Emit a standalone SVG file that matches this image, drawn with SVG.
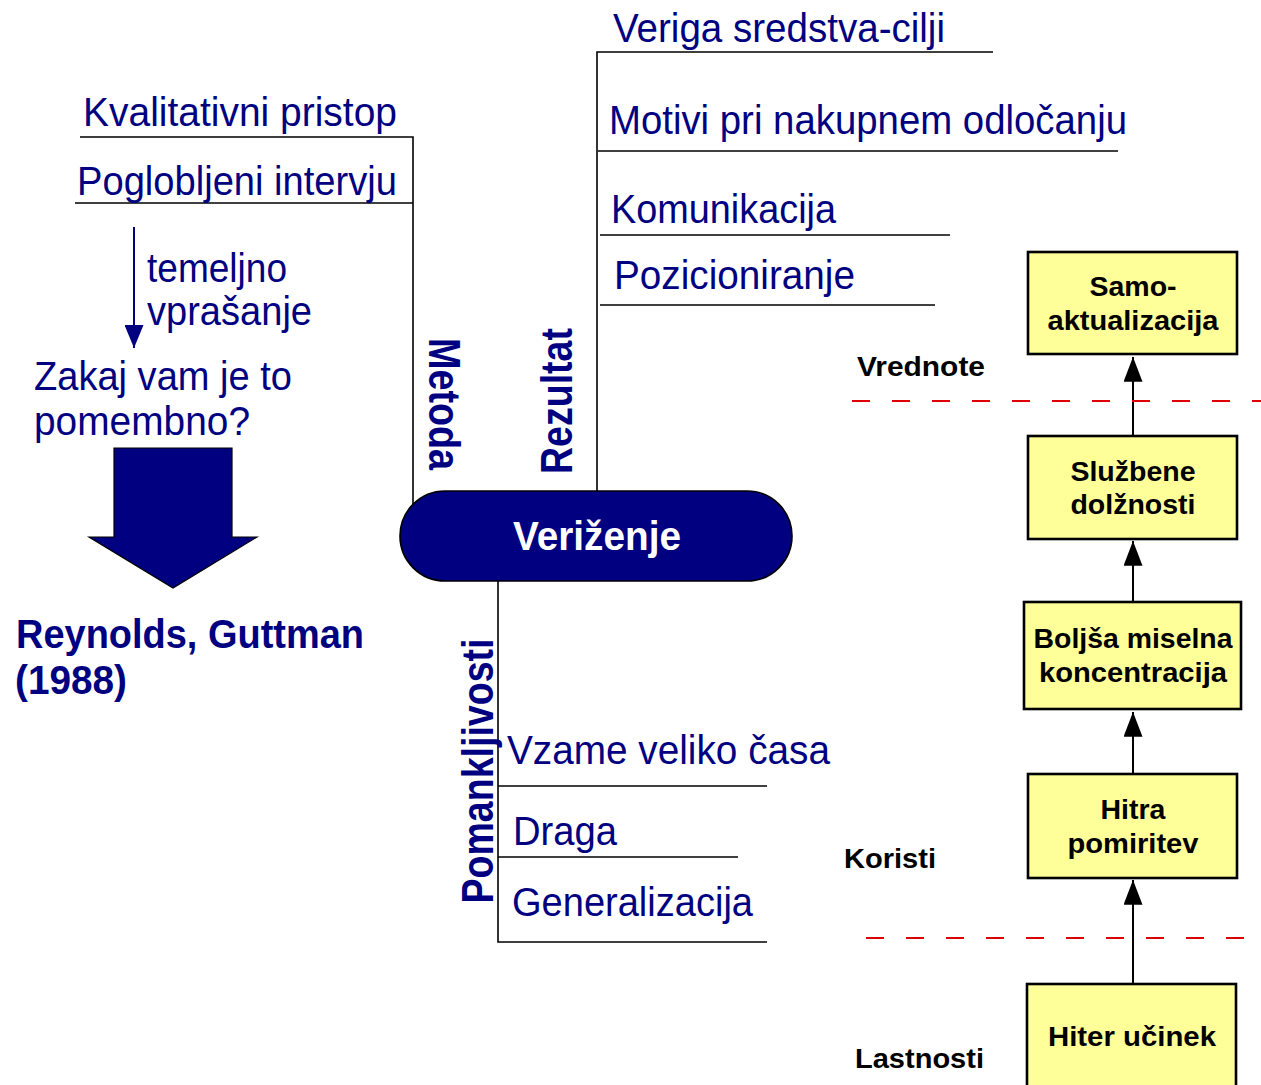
<svg xmlns="http://www.w3.org/2000/svg" width="1261" height="1085" viewBox="0 0 1261 1085">
<style>
.t{font-family:"Liberation Sans",Arial,sans-serif;font-size:41px;fill:#000080}
.tb{font-family:"Liberation Sans",Arial,sans-serif;font-size:41px;font-weight:bold;fill:#000080}
.rb{font-family:"Liberation Sans",Arial,sans-serif;font-size:44px;font-weight:bold;fill:#000080}
.k{font-family:"Liberation Sans",Arial,sans-serif;font-size:28.5px;font-weight:bold;fill:#000}
.ln{stroke:#000;stroke-width:1.6;fill:none}
.box{fill:#FFFF99;stroke:#000;stroke-width:2.6}
.dash{stroke:#DD0000;stroke-width:2;stroke-dasharray:18 22;fill:none}
.ar{stroke:#000;stroke-width:2;fill:none;marker-end:url(#ah)}
</style>
<defs>
<marker id="ah" viewBox="0 0 26 20" refX="26" refY="10" markerWidth="26" markerHeight="19" markerUnits="userSpaceOnUse" orient="auto">
<path d="M0,0 L26,10 L0,20 Z" fill="#000"/>
</marker>
<marker id="nh" viewBox="0 0 23 19" refX="23" refY="9.5" markerWidth="23" markerHeight="19" markerUnits="userSpaceOnUse" orient="auto">
<path d="M0,0 L23,9.5 L0,19 Z" fill="#000080"/>
</marker>
</defs>
<rect width="1261" height="1085" fill="#fff"/>

<g id="connectors">
<path class="ln" d="M80,137 H413 V510"/>
<path class="ln" d="M75,203 H413"/>
<path class="ln" d="M993,52 H597 V495"/>
<path class="ln" d="M598,151 H1118"/>
<path class="ln" d="M600,235 H950"/>
<path class="ln" d="M600,305 H935"/>
<path class="ln" d="M498,578 V942 H767"/>
<path class="ln" d="M498,786 H767"/>
<path class="ln" d="M498,857 H738"/>
<line x1="134" y1="227" x2="134" y2="348" stroke="#000080" stroke-width="2" marker-end="url(#nh)"/>
<line class="ar" x1="1133" y1="436" x2="1133" y2="357"/>
<line class="ar" x1="1133" y1="602" x2="1133" y2="541"/>
<line class="ar" x1="1133" y1="774" x2="1133" y2="712"/>
<line class="ar" x1="1133" y1="984" x2="1133" y2="880"/>
</g>

<g id="separators">
<line class="dash" x1="852" y1="401" x2="1261" y2="401"/>
<line class="dash" x1="866" y1="938" x2="1261" y2="938"/>
</g>

<g id="left-texts">
<text class="t" x="83" y="126" textLength="314" lengthAdjust="spacingAndGlyphs">Kvalitativni pristop</text>
<text class="t" x="77" y="195" textLength="320" lengthAdjust="spacingAndGlyphs">Poglobljeni intervju</text>
<text class="t" x="147" y="282" textLength="140" lengthAdjust="spacingAndGlyphs">temeljno</text>
<text class="t" x="147" y="325" textLength="165" lengthAdjust="spacingAndGlyphs">vprašanje</text>
<text class="t" x="34" y="390" textLength="258" lengthAdjust="spacingAndGlyphs">Zakaj vam je to</text>
<text class="t" x="34" y="435" textLength="216" lengthAdjust="spacingAndGlyphs">pomembno?</text>
</g>

<g id="big-arrow">
<path d="M114,448 H232 V537 H257 L173,588 L89,537 H114 Z" fill="#000080" stroke="#000" stroke-width="1.2"/>
</g>

<g id="reynolds">
<text class="tb" x="16" y="648" textLength="348" lengthAdjust="spacingAndGlyphs">Reynolds, Guttman</text>
<text class="tb" x="15" y="694" textLength="112" lengthAdjust="spacingAndGlyphs">(1988)</text>
</g>

<g id="rotated-labels">
<text class="rb" transform="translate(429,404) rotate(90)" text-anchor="middle" textLength="132" lengthAdjust="spacingAndGlyphs">Metoda</text>
<text class="rb" transform="translate(572,401) rotate(-90)" text-anchor="middle" textLength="146" lengthAdjust="spacingAndGlyphs">Rezultat</text>
<text class="rb" transform="translate(493,771) rotate(-90)" text-anchor="middle" textLength="265" lengthAdjust="spacingAndGlyphs">Pomankljivosti</text>
</g>

<g id="verizenje">
<rect x="400" y="491" width="392" height="90" rx="45" ry="45" fill="#000080" stroke="#000" stroke-width="1.6"/>
<text class="tb" x="597" y="550" text-anchor="middle" textLength="168" lengthAdjust="spacingAndGlyphs" style="fill:#fff">Veriženje</text>
</g>

<g id="results">
<text class="t" x="613" y="42" textLength="332" lengthAdjust="spacingAndGlyphs">Veriga sredstva-cilji</text>
<text class="t" x="609" y="134" textLength="518" lengthAdjust="spacingAndGlyphs">Motivi pri nakupnem odločanju</text>
<text class="t" x="611" y="223" textLength="225" lengthAdjust="spacingAndGlyphs">Komunikacija</text>
<text class="t" x="614" y="289" textLength="241" lengthAdjust="spacingAndGlyphs">Pozicioniranje</text>
</g>

<g id="drawbacks">
<text class="t" x="507" y="764" textLength="323" lengthAdjust="spacingAndGlyphs">Vzame veliko časa</text>
<text class="t" x="513" y="845" textLength="104" lengthAdjust="spacingAndGlyphs">Draga</text>
<text class="t" x="512" y="916" textLength="241" lengthAdjust="spacingAndGlyphs">Generalizacija</text>
</g>

<g id="level-labels">
<text class="k" x="857" y="376" font-size="29" textLength="128" lengthAdjust="spacingAndGlyphs">Vrednote</text>
<text class="k" x="844" y="868" font-size="29" textLength="92" lengthAdjust="spacingAndGlyphs">Koristi</text>
<text class="k" x="855" y="1068" font-size="29" textLength="129" lengthAdjust="spacingAndGlyphs">Lastnosti</text>
</g>

<g id="node-samoaktualizacija">
<rect class="box" x="1028" y="252" width="209" height="102"/>
<text class="k" x="1133" y="296" text-anchor="middle">Samo-</text>
<text class="k" x="1133" y="330" text-anchor="middle" textLength="171" lengthAdjust="spacingAndGlyphs">aktualizacija</text>
</g>
<g id="node-sluzbene">
<rect class="box" x="1028" y="436" width="209" height="103"/>
<text class="k" x="1133" y="481" text-anchor="middle">Službene</text>
<text class="k" x="1133" y="514" text-anchor="middle">dolžnosti</text>
</g>
<g id="node-boljsa">
<rect class="box" x="1024" y="602" width="217" height="107"/>
<text class="k" x="1133" y="648" text-anchor="middle" textLength="199" lengthAdjust="spacingAndGlyphs">Boljša miselna</text>
<text class="k" x="1133" y="682" text-anchor="middle" textLength="188" lengthAdjust="spacingAndGlyphs">koncentracija</text>
</g>
<g id="node-hitra">
<rect class="box" x="1028" y="774" width="209" height="104"/>
<text class="k" x="1133" y="819" text-anchor="middle">Hitra</text>
<text class="k" x="1133" y="853" text-anchor="middle" textLength="131" lengthAdjust="spacingAndGlyphs">pomiritev</text>
</g>
<g id="node-hiter">
<rect class="box" x="1027" y="984" width="209" height="110"/>
<text class="k" x="1132" y="1046" text-anchor="middle" textLength="168" lengthAdjust="spacingAndGlyphs">Hiter učinek</text>
</g>
</svg>
